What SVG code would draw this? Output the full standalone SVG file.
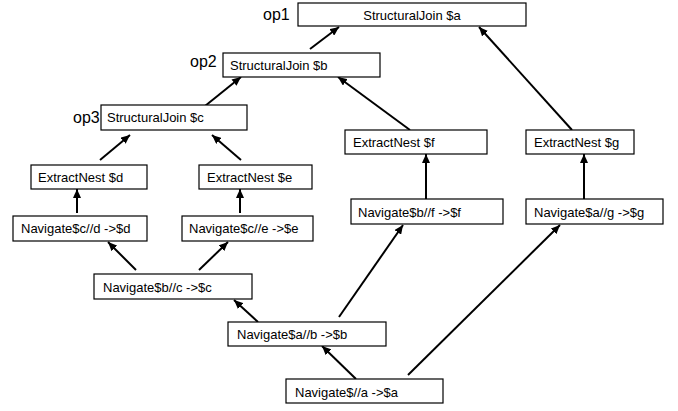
<svg xmlns="http://www.w3.org/2000/svg" width="678" height="411" viewBox="0 0 678 411">
<style>
.box{fill:#fff;stroke:#000;stroke-width:1.2}
.t{font-family:"Liberation Sans",Arial,sans-serif;font-size:13px;fill:#000}
.op{font-family:"Liberation Sans",Arial,sans-serif;font-size:16px;fill:#000}
.e{stroke:#000;stroke-width:2;fill:none;marker-end:url(#ah)}
</style>
<defs>
<marker id="ah" markerUnits="userSpaceOnUse" markerWidth="10" markerHeight="8" refX="9" refY="4" orient="auto">
<path d="M0,0 L9,4 L0,8 z" fill="#000"/>
</marker>
</defs>
<rect width="678" height="411" fill="#fff"/>
<g id="connectors">
<line class="e" x1="310" y1="49" x2="339" y2="27"/>
<line class="e" x1="205" y1="106" x2="241" y2="77"/>
<line class="e" x1="410" y1="130" x2="338" y2="77"/>
<line class="e" x1="572" y1="130" x2="479" y2="27"/>
<line class="e" x1="100" y1="160" x2="130" y2="135"/>
<line class="e" x1="241" y1="160" x2="212" y2="135"/>
<line class="e" x1="77" y1="213" x2="77" y2="189"/>
<line class="e" x1="240" y1="213" x2="240" y2="189"/>
<line class="e" x1="426" y1="199" x2="426" y2="154"/>
<line class="e" x1="584" y1="199" x2="584" y2="154"/>
<line class="e" x1="136" y1="270" x2="108" y2="242"/>
<line class="e" x1="199" y1="270" x2="228" y2="242"/>
<line class="e" x1="258" y1="322" x2="234" y2="300"/>
<line class="e" x1="339" y1="317" x2="403" y2="225"/>
<line class="e" x1="356" y1="379" x2="322" y2="346"/>
<line class="e" x1="408" y1="375" x2="560" y2="225"/>
</g>
<g id="op1"><rect class="box" x="298" y="3" width="228" height="23"/><text class="t" x="412" y="20" text-anchor="middle">StructuralJoin $a</text><text class="op" x="263" y="20">op1</text></g>
<g id="op2"><rect class="box" x="223" y="53" width="157" height="24"/><text class="t" x="230" y="70">StructuralJoin $b</text><text class="op" x="190" y="67">op2</text></g>
<g id="op3"><rect class="box" x="101" y="105" width="146" height="25"/><text class="t" x="107" y="122">StructuralJoin $c</text><text class="op" x="73" y="123">op3</text></g>
<g id="extract-d"><rect class="box" x="31" y="165" width="116" height="24"/><text class="t" x="38" y="182">ExtractNest $d</text></g>
<g id="extract-e"><rect class="box" x="199" y="165" width="113" height="24"/><text class="t" x="207" y="182">ExtractNest $e</text></g>
<g id="extract-f"><rect class="box" x="345" y="130" width="142" height="24"/><text class="t" x="353" y="147">ExtractNest $f</text></g>
<g id="extract-g"><rect class="box" x="526" y="130" width="108" height="24"/><text class="t" x="534" y="147">ExtractNest $g</text></g>
<g id="nav-d"><rect class="box" x="13" y="216" width="134" height="25"/><text class="t" x="21" y="233">Navigate$c//d -&gt;$d</text></g>
<g id="nav-e"><rect class="box" x="182" y="216" width="131" height="25"/><text class="t" x="189" y="233">Navigate$c//e -&gt;$e</text></g>
<g id="nav-f"><rect class="box" x="351" y="199" width="152" height="25"/><text class="t" x="358" y="217">Navigate$b//f -&gt;$f</text></g>
<g id="nav-g"><rect class="box" x="526" y="199" width="137" height="25"/><text class="t" x="534" y="217">Navigate$a//g -&gt;$g</text></g>
<g id="nav-c"><rect class="box" x="94" y="274" width="158" height="25"/><text class="t" x="103" y="292">Navigate$b//c -&gt;$c</text></g>
<g id="nav-b"><rect class="box" x="228" y="322" width="158" height="24"/><text class="t" x="237" y="339">Navigate$a//b -&gt;$b</text></g>
<g id="nav-a"><rect class="box" x="286" y="379" width="157" height="24"/><text class="t" x="295" y="397">Navigate$//a -&gt;$a</text></g>
</svg>
